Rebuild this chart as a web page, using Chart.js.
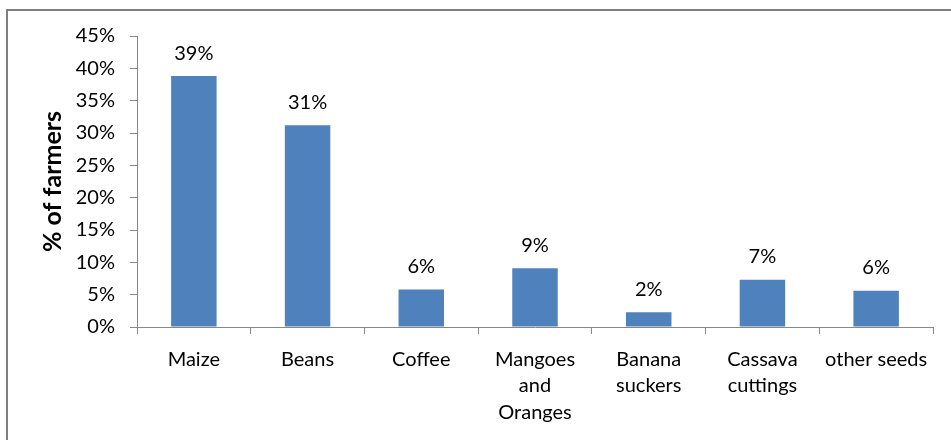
<!DOCTYPE html>
<html>
<head>
<meta charset="utf-8">
<title>% of farmers</title>
<script src="https://cdn.jsdelivr.net/npm/chart.js@4/dist/chart.umd.min.js"></script>
<style>
    html, body { margin: 0; padding: 0; background: #fff; }
    #wrap { position: relative; width: 951px; height: 440px; overflow: hidden; }
    #frame {
        position: absolute; left: 6px; top: 9px; width: 960px; height: 450px;
        border-left: 2px solid #7f7f7f; border-top: 2px solid #7f7f7f;
        box-sizing: border-box; pointer-events: none;
    }
    canvas { position: absolute; left: 0; top: 0; }
</style>
</head>
<body>
<div id="wrap">
    <canvas id="chart" width="951" height="440"></canvas>
    <div id="frame"></div>
</div>
<script>
// Categories and values (% of farmers)
const categories = [
    'Maize',
    'Beans',
    'Coffee',
    ['Mangoes', 'and', 'Oranges'],
    ['Banana', 'suckers'],
    ['Cassava', 'cuttings'],
    'other seeds'
];
const farmerShares = [38.8, 31.2, 5.8, 9.1, 2.3, 7.3, 5.6];
const yTicks = [0, 5, 10, 15, 20, 25, 30, 35, 40, 45];

const FONT = 'Lato, "Open Sans", sans-serif';

// Value labels above each bar
const barLabels = {
    id: 'barLabels',
    afterDatasetsDraw(chart) {
        const ctx = chart.ctx;
        const meta = chart.getDatasetMeta(0);
        ctx.save();
        ctx.font = '20px ' + FONT;
        ctx.fillStyle = '#000';
        ctx.textAlign = 'center';
        ctx.textBaseline = 'middle';
        meta.data.forEach((bar, i) => {
            ctx.fillText(Math.round(farmerShares[i]) + '%', bar.x, bar.y - 23);
        });
        ctx.restore();
    }
};

new Chart(document.getElementById('chart'), {
    type: 'bar',
    data: {
        labels: categories,
        datasets: [{
            data: farmerShares,
            backgroundColor: '#4f81bd',
            borderWidth: 0,
            barPercentage: 0.4,
            categoryPercentage: 1
        }]
    },
    options: {
        responsive: false,
        animation: false,
        layout: { padding: { left: 0, right: 18, top: 36, bottom: 0 } },
        plugins: {
            legend: { display: false },
            tooltip: { enabled: false }
        },
        scales: {
            x: {
                afterFit(scale) { scale.height = 113; },
                grid: {
                    display: true,
                    drawOnChartArea: false,
                    drawTicks: true,
                    tickLength: 7,
                    color: '#888',
                    offset: true
                },
                border: { display: true, color: '#888', width: 1 },
                ticks: {
                    color: '#000',
                    font: { family: FONT, size: 20, lineHeight: 1.33 },
                    padding: 12,
                    maxRotation: 0,
                    autoSkip: false
                }
            },
            y: {
                min: 0,
                max: 45,
                afterFit(scale) { scale.width = 137; },
                afterBuildTicks(scale) {
                    scale.ticks = yTicks.map(v => ({ value: v }));
                },
                grid: {
                    display: true,
                    drawOnChartArea: false,
                    drawTicks: true,
                    tickLength: 7,
                    color: '#888'
                },
                border: { display: true, color: '#888', width: 1 },
                ticks: {
                    color: '#000',
                    font: { family: FONT, size: 20 },
                    padding: 15,
                    callback: v => v + '%'
                },
                title: {
                    display: true,
                    text: '% of farmers',
                    color: '#000',
                    font: { family: FONT, size: 25, weight: 'bold' },
                    padding: { top: 38, bottom: 0 }
                }
            }
        }
    },
    plugins: [barLabels]
});
</script>
</body>
</html>
